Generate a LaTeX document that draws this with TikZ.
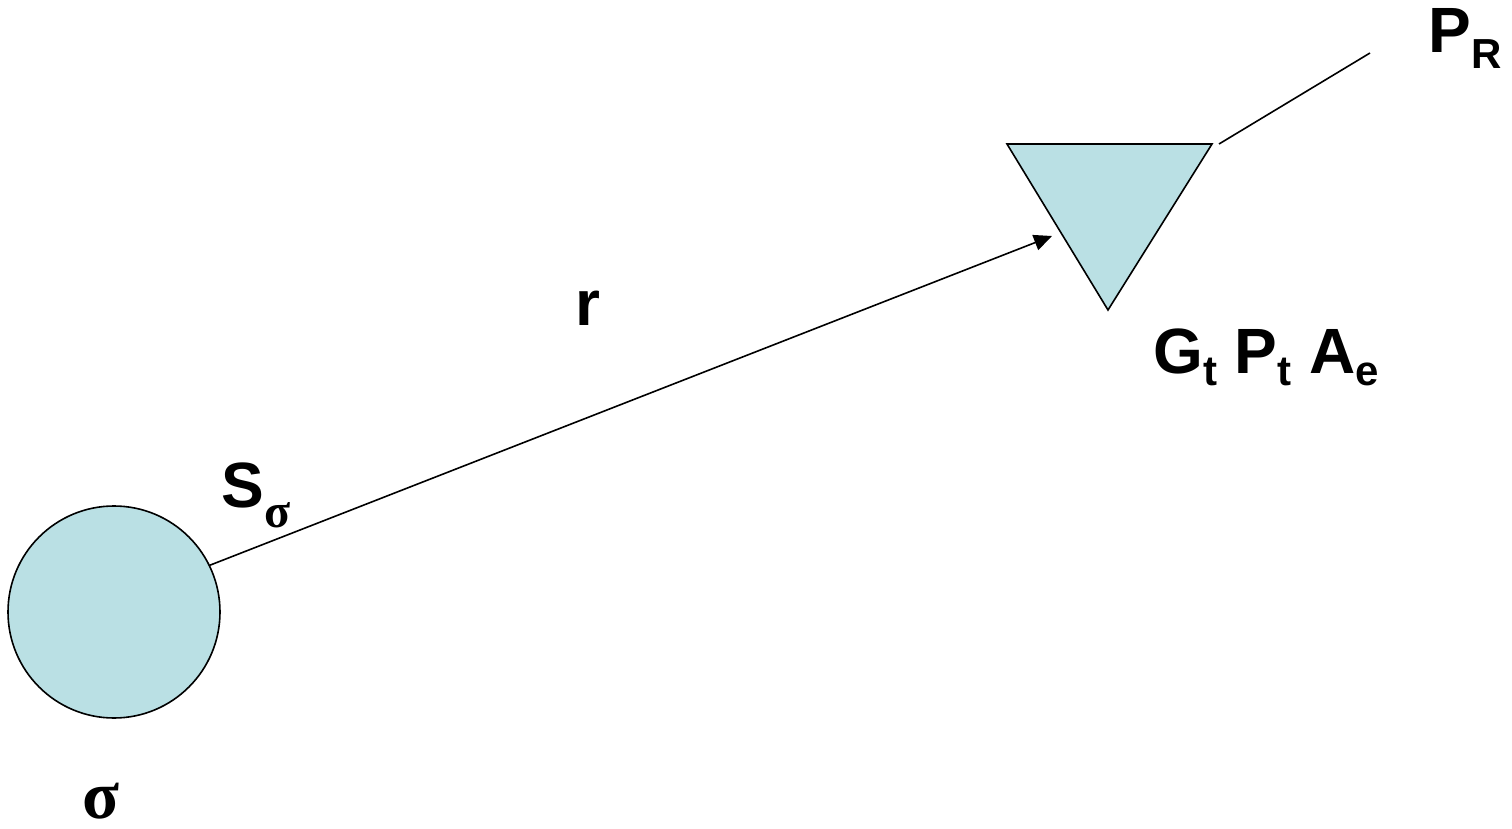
\documentclass[tikz,border=0pt]{standalone}
\usepackage{fontspec}
\setmainfont{Liberation Sans}
\newfontfamily\greekfont{Liberation Serif}
\usetikzlibrary{arrows.meta}

\definecolor{bodyblue}{RGB}{186,224,228}
\newcommand{\lowsub}[2][8pt]{\raisebox{-#1}{\fontsize{21}{21}\selectfont #2}}

\begin{document}
\begin{tikzpicture}[
  x=0.5pt, y=-0.5pt,
  every node/.style={font=\fontsize{32}{38}\selectfont\bfseries, inner sep=0pt},
  body/.style={draw, fill=bodyblue, line width=0.8pt},
  arrow/.style={-{Triangle[length=9pt, width=8pt]}, line width=0.8pt},
  tag/.style={anchor=base west}
]
\useasboundingbox (0,0) rectangle (1512,829);

% scatterer and receiver
\node[body, circle, minimum size=106pt] (target) at (114,612) {};
\coordinate (rxleft) at (1007,144);
\coordinate (rxright) at (1212,144);
\coordinate (rxtip) at (1108,310);
\draw[body] (rxleft) -- (rxright) -- (rxtip) -- cycle;

\coordinate (rxin) at (1052,236);
\coordinate (feedstart) at (1219,144);
\coordinate (feedend) at (1370,53);

% labels
\node[tag] (power) at (1428,53) {P\lowsub{R}};
\node[tag] (range) at (575,325) {r};
\node[tag] (gains) at (1153,373) {G\lowsub[6pt]{t} P\lowsub[6pt]{t} A\lowsub[6pt]{e}};
\node[tag] (scat) at (221,507) {S\lowsub[10pt]{\greekfont\fontsize{24}{24}\selectfont σ}};
\node[tag] (rcs) at (82,818) {\greekfont\fontsize{34}{38}\selectfont σ};

% connectors
\draw[arrow] (target.26) -- (rxin);
\draw[line width=0.8pt] (feedstart) -- (feedend);

\end{tikzpicture}
\end{document}
